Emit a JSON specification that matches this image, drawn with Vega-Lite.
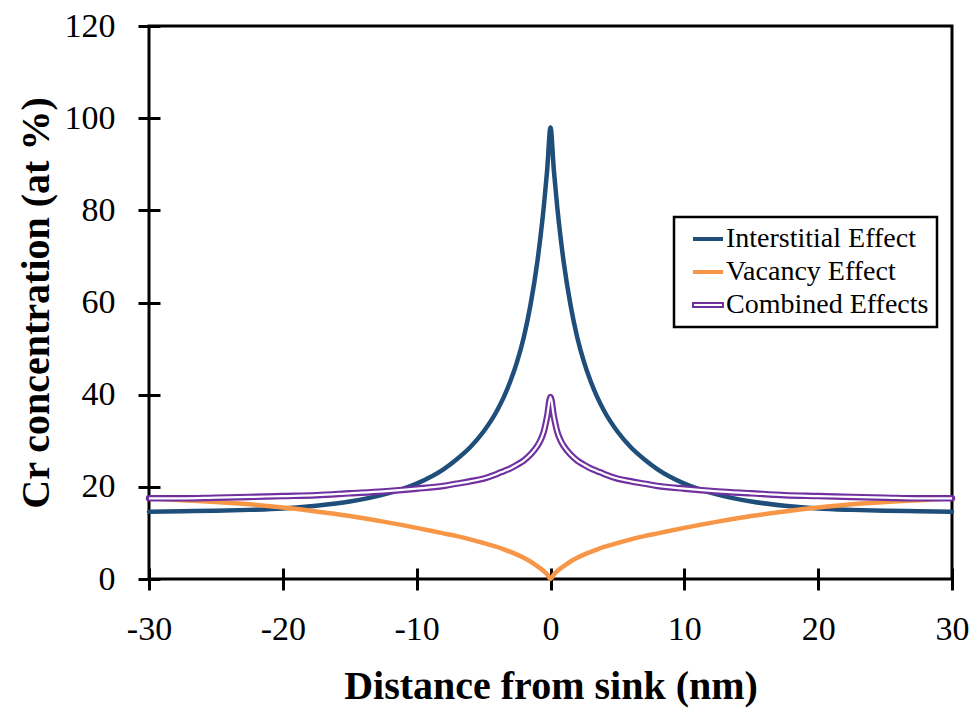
{
  "$schema": "https://vega.github.io/schema/vega-lite/v6.json",
  "width": 803,
  "height": 553,
  "autosize": "none",
  "padding": {"left": 149, "top": 26, "right": 20, "bottom": 130},
  "background": "white",
  "config": {
    "view": {"stroke": "black", "strokeWidth": 3},
    "axis": {
      "labelFont": "Liberation Serif",
      "labelFontSize": 34,
      "labelColor": "black",
      "titleFont": "Liberation Serif",
      "titleFontSize": 40,
      "titleFontWeight": "bold",
      "titleColor": "black",
      "tickColor": "black",
      "tickWidth": 3,
      "tickSize": 22,
      "offset": -11,
      "domain": false,
      "grid": false
    },
    "legend": {"strokeWidth": 2.5}
  },
  "data": {
    "values": [
      {"x": -30, "I": 14.6, "V": 17.5, "C": 17.5},
      {"x": -27.5, "I": 14.7, "V": 17.1, "C": 17.5},
      {"x": -25, "I": 14.8, "V": 16.7, "C": 17.65},
      {"x": -22.5, "I": 15.0, "V": 16.2, "C": 17.8},
      {"x": -20, "I": 15.3, "V": 15.5, "C": 18.0},
      {"x": -17.5, "I": 15.9, "V": 14.65, "C": 18.2},
      {"x": -15, "I": 16.8, "V": 13.65, "C": 18.6},
      {"x": -12.5, "I": 18.3, "V": 12.45, "C": 19.0},
      {"x": -10, "I": 20.7, "V": 11.1, "C": 19.6},
      {"x": -8, "I": 23.8, "V": 9.9, "C": 20.2},
      {"x": -7, "I": 26.0, "V": 9.3, "C": 20.7},
      {"x": -6, "I": 28.6, "V": 8.6, "C": 21.2},
      {"x": -5, "I": 32.0, "V": 7.8, "C": 21.8},
      {"x": -4, "I": 36.5, "V": 6.95, "C": 22.8},
      {"x": -3.5, "I": 39.4, "V": 6.45, "C": 23.4},
      {"x": -3, "I": 42.9, "V": 5.9, "C": 24.0},
      {"x": -2.5, "I": 47.1, "V": 5.3, "C": 24.8},
      {"x": -2, "I": 52.4, "V": 4.6, "C": 25.7},
      {"x": -1.5, "I": 59.4, "V": 3.8, "C": 27.0},
      {"x": -1, "I": 68.5, "V": 2.8, "C": 28.8},
      {"x": -0.75, "I": 74.2, "V": 2.3, "C": 30.1},
      {"x": -0.5, "I": 80.8, "V": 1.7, "C": 32.0},
      {"x": -0.25, "I": 88.7, "V": 1.0, "C": 35.3},
      {"x": 0, "I": 98.0, "V": 0.0, "C": 39.5},
      {"x": 0.25, "I": 88.7, "V": 1.0, "C": 35.3},
      {"x": 0.5, "I": 80.8, "V": 1.7, "C": 32.0},
      {"x": 0.75, "I": 74.2, "V": 2.3, "C": 30.1},
      {"x": 1, "I": 68.5, "V": 2.8, "C": 28.8},
      {"x": 1.5, "I": 59.4, "V": 3.8, "C": 27.0},
      {"x": 2, "I": 52.4, "V": 4.6, "C": 25.7},
      {"x": 2.5, "I": 47.1, "V": 5.3, "C": 24.8},
      {"x": 3, "I": 42.9, "V": 5.9, "C": 24.0},
      {"x": 3.5, "I": 39.4, "V": 6.45, "C": 23.4},
      {"x": 4, "I": 36.5, "V": 6.95, "C": 22.8},
      {"x": 5, "I": 32.0, "V": 7.8, "C": 21.8},
      {"x": 6, "I": 28.6, "V": 8.6, "C": 21.2},
      {"x": 7, "I": 26.0, "V": 9.3, "C": 20.7},
      {"x": 8, "I": 23.8, "V": 9.9, "C": 20.2},
      {"x": 10, "I": 20.7, "V": 11.1, "C": 19.6},
      {"x": 12.5, "I": 18.3, "V": 12.45, "C": 19.0},
      {"x": 15, "I": 16.8, "V": 13.65, "C": 18.6},
      {"x": 17.5, "I": 15.9, "V": 14.65, "C": 18.2},
      {"x": 20, "I": 15.3, "V": 15.5, "C": 18.0},
      {"x": 22.5, "I": 15.0, "V": 16.2, "C": 17.8},
      {"x": 25, "I": 14.8, "V": 16.7, "C": 17.65},
      {"x": 27.5, "I": 14.7, "V": 17.1, "C": 17.5},
      {"x": 30, "I": 14.6, "V": 17.5, "C": 17.5}
    ]
  },
  "transform": [
    {"fold": ["I", "V", "C"], "as": ["key", "y"]},
    {"lookup": "key", "from": {"data": {"values": [
      {"key": "I", "series": "Interstitial Effect"},
      {"key": "V", "series": "Vacancy Effect"},
      {"key": "C", "series": "Combined Effects"}
    ]}, "key": "key", "fields": ["series"]}}
  ],
  "encoding": {
    "x": {
      "field": "x", "type": "quantitative",
      "scale": {"domain": [-30, 30], "nice": false, "zero": false},
      "axis": {"values": [-30, -20, -10, 0, 10, 20, 30], "labelExpr": "'' + datum.value", "labelPadding": 22, "title": "Distance from sink (nm)", "titlePadding": 20, "labelFlush": false}
    },
    "y": {
      "field": "y", "type": "quantitative",
      "scale": {"domain": [0, 120], "nice": false},
      "axis": {"values": [0, 20, 40, 60, 80, 100, 120], "labelPadding": 23, "title": "Cr concentration (at %)", "titlePadding": 8, "labelFlush": false}
    }
  },
  "layer": [
    {
      "transform": [{"filter": "datum.key !== 'C'"}],
      "mark": {"type": "line", "strokeWidth": 4.5, "strokeCap": "round", "strokeJoin": "round", "interpolate": "monotone"},
      "encoding": {
        "color": {
          "field": "series", "type": "nominal",
          "scale": {"domain": ["Interstitial Effect", "Vacancy Effect", "Combined Effects"], "range": ["#1F4E7A", "#F79646", "#7030A0"]},
          "legend": {
            "orient": "none", "legendX": 525, "legendY": 191, "title": null,
            "symbolType": "stroke", "symbolSize": 900, "symbolStrokeWidth": 4, "symbolOffset": 12,
            "labelFont": "Liberation Serif", "labelFontSize": 28, "labelColor": "black", "labelLimit": 0,
            "padding": 8, "rowPadding": 5, "labelOffset": 4,
            "strokeColor": "black", "fillColor": "white",
            "encode": {"symbols": {"update": {
              "shape": {"signal": "datum.value === 'Combined Effects' ? 'M-1,-0.14L1,-0.14L1,0.14L-1,0.14Z' : 'stroke'"},
              "strokeWidth": {"signal": "datum.value === 'Combined Effects' ? 2 : 4"},
              "fill": {"signal": "datum.value === 'Combined Effects' ? 'white' : 'transparent'"}
            }}}
          }
        },
        "detail": {"field": "series"}
      }
    },
    {
      "transform": [{"filter": "datum.key === 'C'"}],
      "mark": {"type": "line", "strokeWidth": 6.5, "strokeCap": "round", "strokeJoin": "round", "interpolate": "monotone"},
      "encoding": {
        "color": {"field": "series", "type": "nominal"}
      }
    },
    {
      "transform": [{"filter": "datum.key === 'C'"}],
      "mark": {"type": "line", "strokeWidth": 2.2, "color": "white", "strokeCap": "butt", "interpolate": "monotone"},
      "encoding": {}
    }
  ]
}
